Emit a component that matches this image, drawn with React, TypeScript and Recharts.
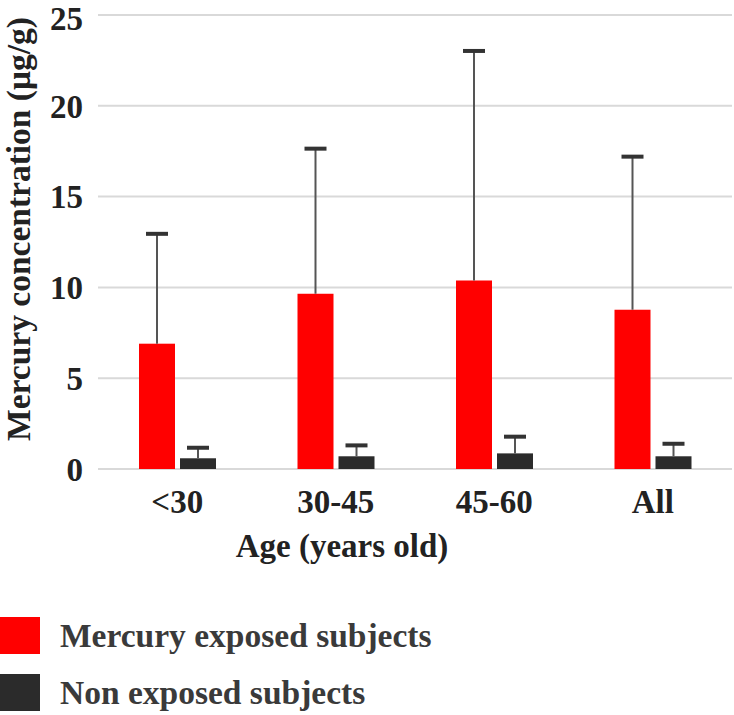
import { Bar, BarChart, CartesianGrid, Legend, XAxis, YAxis } from "recharts";

const ageGroups = ["<30", "30-45", "45-60", "All"];
const exposedMean = [6.9, 9.65, 10.38, 8.77];
const exposedSd = [6.05, 7.99, 12.64, 8.43];
const nonExposedMean = [0.59, 0.7, 0.86, 0.7];
const nonExposedSd = [0.58, 0.6, 0.92, 0.69];
const yTicks = [0, 5, 10, 15, 20, 25];

const data = ageGroups.map((age, i) => ({
  age,
  exposed: exposedMean[i],
  exposedErr: exposedSd[i],
  nonExposed: nonExposedMean[i],
  nonExposedErr: nonExposedSd[i],
}));

const FONT = '"Liberation Serif", "Times New Roman", serif';
const RED = "#ff0000";
const DARK = "#2b2b2b";

/** Bar rectangle plus an upward-only error whisker, scaled from the bar itself. */
function WhiskerBar(props: any) {
  const { x, y, width, height, fill, payload, valKey, errKey } = props;
  const value = payload[valKey];
  const perUnit = value ? height / value : 0;
  const errPx = payload[errKey] * perUnit;
  const cx = x + width / 2;
  const top = y - errPx;
  return (
    <g>
      <rect x={x} y={y} width={width} height={height} fill={fill} />
      <line x1={cx} y1={y} x2={cx} y2={top} stroke="#555" strokeWidth={2} />
      <line x1={cx - 11} y1={top} x2={cx + 11} y2={top} stroke="#333" strokeWidth={4} />
    </g>
  );
}

function LegendBox() {
  const items = [
    { color: RED, label: "Mercury exposed subjects" },
    { color: DARK, label: "Non exposed subjects" },
  ];
  return (
    <div style={{ fontFamily: FONT }}>
      {items.map((it) => (
        <div
          key={it.label}
          style={{ display: "flex", alignItems: "center", height: 57, gap: 20 }}
        >
          <div style={{ width: 40, height: 37, background: it.color }} />
          <span style={{ fontSize: 33.5, fontWeight: "bold", color: "#3a3a3a" }}>
            {it.label}
          </span>
        </div>
      ))}
    </div>
  );
}

export default function App() {
  return (
    <div style={{ width: 734, height: 715 }}>
      <style>{`body{margin:0}`}</style>
      <BarChart
        width={734}
        height={715}
        data={data}
        margin={{ top: 15, right: 2, bottom: 156, left: 0 }}
        barGap={5}
        barSize={36}
      >
        <CartesianGrid vertical={false} stroke="#d9d9d9" strokeWidth={2} />
        <XAxis
          dataKey="age"
          axisLine={false}
          tickLine={false}
          tickSize={0}
          tickMargin={21}
          height={90}
          tick={{ fontFamily: FONT, fontSize: 33, fontWeight: "bold", fill: "#222" }}
          label={{
            content: ({ viewBox }: any) => (
              <text
                x={viewBox.x + viewBox.width / 2 - 73}
                y={viewBox.y + 88}
                textAnchor="middle"
                fontFamily={FONT}
                fontSize={33}
                fontWeight="bold"
                fill="#222"
              >
                Age (years old)
              </text>
            ),
          }}
        />
        <YAxis
          domain={[0, 25]}
          ticks={yTicks}
          width={98}
          axisLine={false}
          tickLine={false}
          tickSize={0}
          tickMargin={15}
          tick={{ fontFamily: FONT, fontSize: 33, fontWeight: "bold", fill: "#222" }}
          label={{
            content: ({ viewBox }: any) => (
              <text
                x={18}
                y={viewBox.y + viewBox.height / 2 - 13}
                transform={`rotate(-90, 18, ${viewBox.y + viewBox.height / 2 - 13})`}
                textAnchor="middle"
                dominantBaseline="central"
                fontFamily={FONT}
                fontSize={33.5}
                fontWeight="bold"
                fill="#222"
              >
                Mercury concentration (μg/g)
              </text>
            ),
          }}
        />
        <Legend
          layout="vertical"
          align="center"
          verticalAlign="middle"
          wrapperStyle={{ top: 607, left: 0, width: 734 }}
          content={() => <LegendBox />}
        />
        <Bar
          dataKey="exposed"
          fill={RED}
          isAnimationActive={false}
          shape={(p: any) => <WhiskerBar {...p} valKey="exposed" errKey="exposedErr" />}
        />
        <Bar
          dataKey="nonExposed"
          fill={DARK}
          isAnimationActive={false}
          shape={(p: any) => <WhiskerBar {...p} valKey="nonExposed" errKey="nonExposedErr" />}
        />
      </BarChart>
    </div>
  );
}
